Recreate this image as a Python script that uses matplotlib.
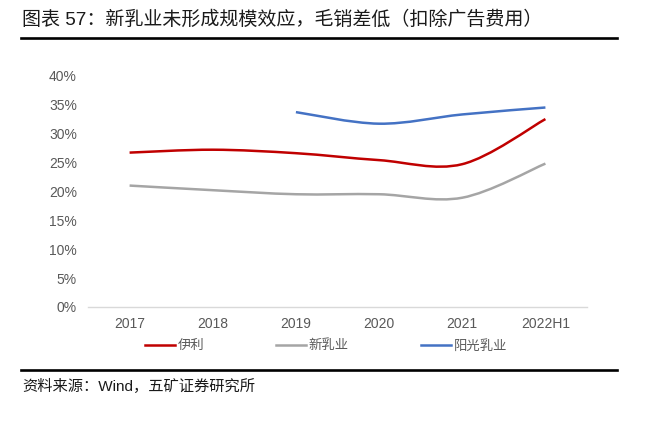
import matplotlib
matplotlib.use("Agg")
import matplotlib.pyplot as plt
from matplotlib.path import Path
from matplotlib.patches import PathPatch
from matplotlib.lines import Line2D
import numpy as np

plt.rcParams['font.family'] = ['Liberation Sans', 'Noto Sans CJK SC', 'DejaVu Sans']

categories = ["2017", "2018", "2019", "2020", "2021", "2022H1"]
yili = [26.7, 27.2, 26.6, 25.4, 24.7, 32.5]
xinruye = [21.0, 20.2, 19.5, 19.5, 18.9, 24.8]
yangguang = [None, None, 33.7, 31.7, 33.3, 34.5]
series_names = ["伊利", "新乳业", "阳光乳业"]
series_colors = ["#C00000", "#A5A5A5", "#4472C4"]
yticks = [0, 5, 10, 15, 20, 25, 30, 35, 40]

W, H = 666, 438
fig = plt.figure(figsize=(W / 100, H / 100), dpi=100)
ax = fig.add_axes([88 / W, 1 - 307 / H, (587 - 88) / W, (307 - 75.7) / H])


def smooth_path(xs, ys):
    pts = np.column_stack([xs, ys]).astype(float)
    n = len(pts)
    verts = [pts[0]]
    codes = [Path.MOVETO]
    for i in range(n - 1):
        p0 = pts[i - 1] if i > 0 else pts[i]
        p1 = pts[i]
        p2 = pts[i + 1]
        p3 = pts[i + 2] if i + 2 < n else pts[i + 1]
        c1 = p1 + (p2 - p0) / 6.0
        c2 = p2 - (p3 - p1) / 6.0
        verts += [c1, c2, p2]
        codes += [Path.CURVE4] * 3
    return Path(verts, codes)


handles = []
for vals, name, color in zip([yili, xinruye, yangguang], series_names, series_colors):
    xs = [i for i, v in enumerate(vals) if v is not None]
    ys = [v / 100 for v in vals if v is not None]
    patch = PathPatch(smooth_path(xs, ys), facecolor='none', edgecolor=color,
                      lw=1.8, capstyle='butt', joinstyle='round')
    ax.add_patch(patch)
    handles.append(Line2D([], [], color=color, lw=1.8, label=name))

ax.set_xlim(-0.5, len(categories) - 0.5)
ax.set_ylim(0, 0.40)
ax.set_xticks(range(len(categories)))
ax.set_xticklabels(categories)
ax.set_yticks([t / 100 for t in yticks])
ax.set_yticklabels([f"{t}%" for t in yticks])
ax.tick_params(axis='both', length=0, labelsize=10, colors='#595959')
ax.tick_params(axis='y', pad=8)
ax.tick_params(axis='x', pad=7)
for s in ['top', 'right', 'left']:
    ax.spines[s].set_visible(False)
ax.spines['bottom'].set_color('#D9D9D9')
ax.spines['bottom'].set_linewidth(1.0)

leg = fig.legend(handles=handles, loc='center', bbox_to_anchor=(326 / W, 1 - 346 / H),
                 ncol=3, frameon=False, fontsize=9.6, handlelength=2.25,
                 handletextpad=0.2, columnspacing=5.4, borderpad=0, borderaxespad=0)
for t in leg.get_texts():
    t.set_color('#595959')

fig.text(22 / W, 1 - 19.5 / H, "图表 57：新乳业未形成规模效应，毛销差低（扣除广告费用）",
         fontsize=13.7, color='#1a1a1a', va='center', ha='left')
fig.add_artist(Line2D([21 / W, 617 / W], [1 - 37.5 / H, 1 - 37.5 / H], color='black', lw=1.9,
                      transform=fig.transFigure))
fig.add_artist(Line2D([21 / W, 617 / W], [1 - 370 / H, 1 - 370 / H], color='black', lw=1.9,
                      transform=fig.transFigure))
fig.text(22 / W, 1 - 386 / H, "资料来源：Wind，五矿证券研究所",
         fontsize=11, color='#1a1a1a', va='center', ha='left')

fig.savefig("out.png", dpi=100)
